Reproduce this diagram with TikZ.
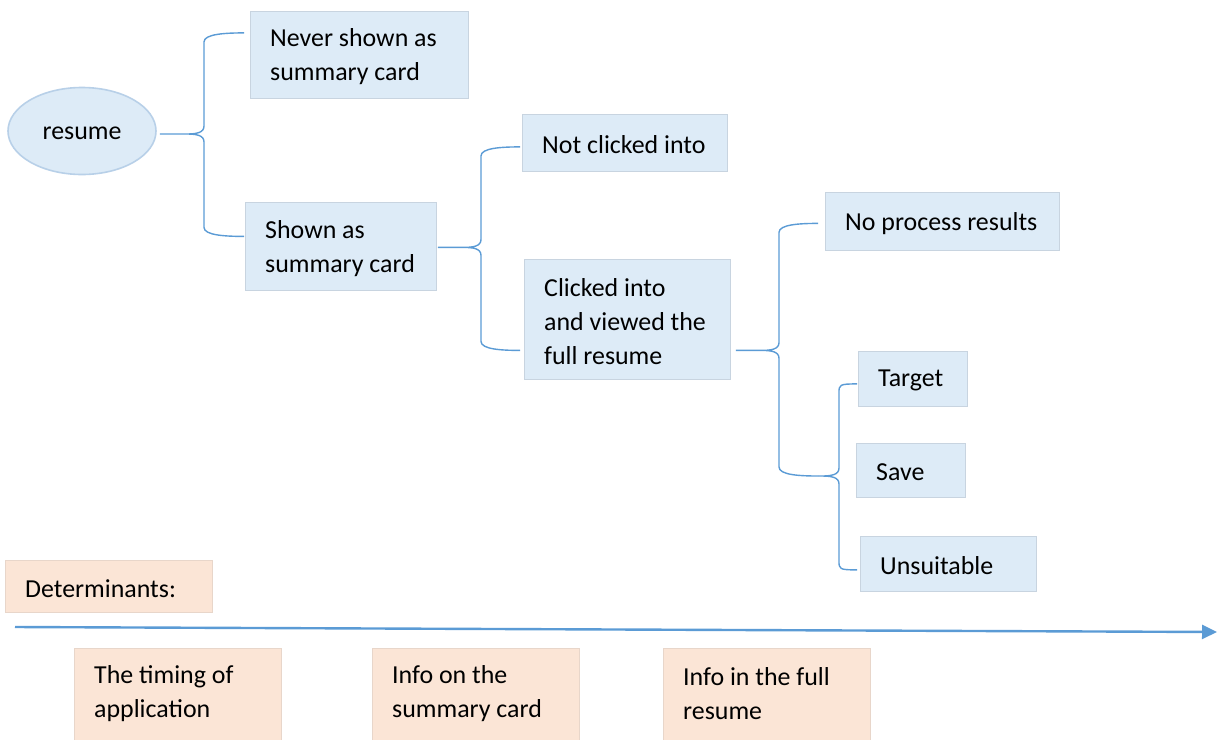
\documentclass[tikz,border=0pt]{standalone}
\usepackage{fontspec}
\setmainfont{Carlito}
\usetikzlibrary{shapes.geometric,arrows.meta,calc}

\definecolor{cardblue}{RGB}{221,235,247}
\definecolor{cardedge}{RGB}{200,212,224}
\definecolor{peach}{RGB}{251,229,214}
\definecolor{peachedge}{RGB}{232,214,202}
\definecolor{ovaledge}{RGB}{184,208,232}
\definecolor{linkblue}{RGB}{91,155,213}

% curly bracket: #1 tip, #2 upper end, #3 lower end, #4 x of the spine
\newcommand{\curlybracket}[4]{%
  \draw[bracketline] let \p1=(#1), \p2=(#2), \p3=(#3) in
    (\p2) .. controls (\x2-18pt,\y2) and (#4pt,\y2-1pt) .. (#4pt,\y2-9pt)
    -- (#4pt,\y1+8pt) .. controls (#4pt,\y1+1pt) and (#4pt-8pt,\y1) .. (#4pt-18pt,\y1) -- (\p1)
    (\p3) .. controls (\x3-18pt,\y3) and (#4pt,\y3+1pt) .. (#4pt,\y3+9pt)
    -- (#4pt,\y1-8pt) .. controls (#4pt,\y1-1pt) and (#4pt-8pt,\y1) .. (#4pt-18pt,\y1);}

\begin{document}
\begin{tikzpicture}[x=1pt,y=-1pt,
  font=\fontsize{25.9}{33.8}\selectfont,
  card/.style={draw=cardedge, line width=0.8pt, fill=cardblue, anchor=north west, inner sep=0pt},
  factor/.style={draw=peachedge, line width=0.8pt, fill=peach, anchor=north west, inner sep=0pt},
  cardtext/.style={anchor=west, align=left, inner sep=0pt, yshift=-2pt},
  lowtext/.style={cardtext, yshift=3pt},
  bracketline/.style={draw=linkblue, line width=1.4pt},
  timeline/.style={draw=linkblue, line width=2.4pt, -{Triangle[length=15pt,width=14pt]}}]

\useasboundingbox (0,0) rectangle (1217,739);

% root of the tree
\node[ellipse, draw=ovaledge, line width=1.6pt, fill=cardblue, minimum width=148, minimum height=87, inner sep=0pt]
  (resume) at (82,131) {};
\node[inner sep=0pt, yshift=-2pt] (resumetxt) at (resume.center) {resume};

% first split
\node[card, minimum width=218, minimum height=87] (never) at (250,11) {};
\node[cardtext] (nevertxt) at ([xshift=20]never.west) {Never shown as\\summary card};
\node[card, minimum width=191, minimum height=88] (shown) at (245,202) {};
\node[cardtext] (showntxt) at ([xshift=20]shown.west) {Shown as\\summary card};

% second split
\node[card, minimum width=205, minimum height=57] (notclicked) at (522,114) {};
\node[cardtext] (notclickedtxt) at ([xshift=20]notclicked.west) {Not clicked into};
\node[card, minimum width=206, minimum height=120] (clicked) at (524,259) {};
\node[cardtext] (clickedtxt) at ([xshift=20]clicked.west) {Clicked into\\and viewed the\\full resume};

% third split
\node[card, minimum width=234, minimum height=58] (noproc) at (825,192) {};
\node[cardtext] (noproctxt) at ([xshift=20]noproc.west) {No process results};
\node[card, minimum width=109, minimum height=55] (target) at (858,351) {};
\node[cardtext] (targettxt) at ([xshift=20]target.west) {Target};
\node[card, minimum width=109, minimum height=54] (save) at (856,443) {};
\node[cardtext] (savetxt) at ([xshift=20]save.west) {Save};
\node[card, minimum width=176, minimum height=55] (unsuitable) at (860,536) {};
\node[cardtext] (unsuitabletxt) at ([xshift=20]unsuitable.west) {Unsuitable};

% brackets
\coordinate (splitjoin) at (818,476);
\curlybracket{[shift={(3,3)}]resume.east}{[shift={(-6,-22)}]never.west}{[shift={(-1,-10)}]shown.west}{204}
\curlybracket{[shift={(1,1)}]shown.east}{[shift={(-2,4)}]notclicked.west}{[shift={(-4,31)}]clicked.west}{481}
\curlybracket{[shift={(5,31)}]clicked.east}{[shift={(-7,2)}]noproc.west}{splitjoin}{779}
\curlybracket{splitjoin}{[shift={(-1,5)}]target.west}{[shift={(-3,6)}]unsuitable.west}{839}

% determinants along the time axis
\node[factor, minimum width=207, minimum height=52] (determ) at (5,560) {};
\node[cardtext] (determtxt) at ([xshift=20]determ.west) {Determinants:};

\coordinate (axisstart) at (15,627);
\coordinate (axisend) at (1217,632);
\draw[timeline] (axisstart) -- (axisend);

\node[factor, minimum width=207, minimum height=92] (timing) at (74,648) {};
\node[lowtext] (timingtxt) at ([xshift=20]timing.west) {The timing of\\application};
\node[factor, minimum width=207, minimum height=92] (cardinfo) at (372,648) {};
\node[lowtext] (cardinfotxt) at ([xshift=20]cardinfo.west) {Info on the\\summary card};
\node[factor, minimum width=207, minimum height=92] (fullinfo) at (663,648) {};
\node[lowtext] (fullinfotxt) at ([xshift=20]fullinfo.west) {Info in the full\\resume};

\end{tikzpicture}
\end{document}
